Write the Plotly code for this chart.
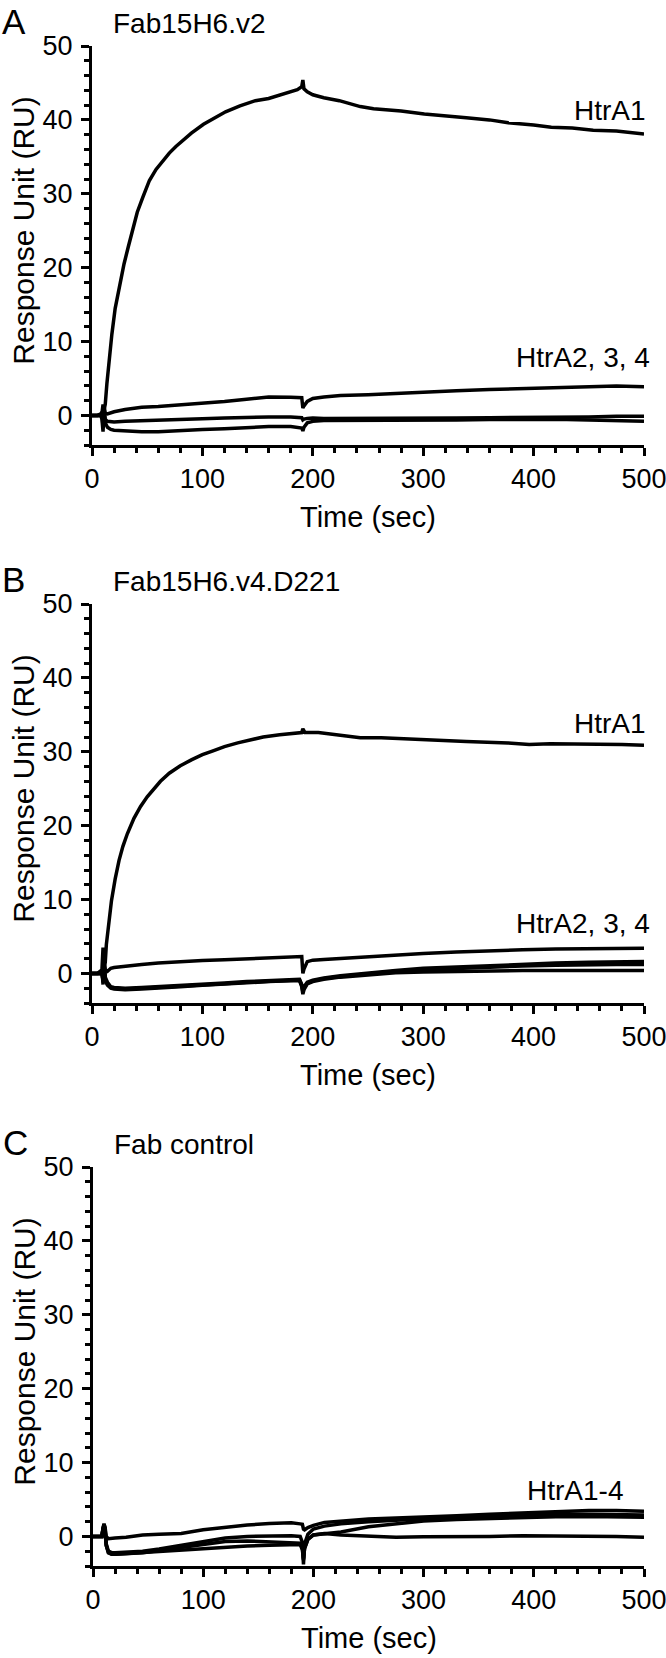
import plotly.graph_objects as go

# ---------------- data ----------------
# Panel A: Fab15H6.v2
t_A_htra1 = [0, 5, 9, 10, 11, 12, 13.5, 16, 18, 21, 25, 29, 33, 37, 41, 46, 52, 58, 64, 70,
             76, 83, 90, 101, 110, 121, 134, 148, 160, 167, 178, 186, 190, 191, 192, 195, 200, 210, 224, 235,
             243, 255, 265, 280, 301, 320, 339, 360, 377, 400, 416, 435, 454, 475, 490, 500]
A_htra1 = [0, 0, 0.3, 1.5, 0.8, 1.5, 4.3, 8.5, 11, 14.5, 17.8, 20.5, 22.9, 25.3, 27.5, 29.5, 31.8, 33.3, 34.5, 35.5,
           36.4, 37.3, 38.2, 39.4, 40.2, 41.1, 41.9, 42.6, 42.9, 43.2, 43.7, 44.1, 44.5, 45.4, 44.2, 43.8, 43.4, 43.0, 42.6, 42.2,
           41.8, 41.5, 41.4, 41.2, 40.8, 40.6, 40.3, 40.0, 39.6, 39.3, 39.0, 38.9, 38.6, 38.5, 38.3, 38.1]

# common time grid for the low-response curves
t_low = [0, 8, 9, 10, 11, 12, 14, 17, 20,
         30, 45, 60, 80, 100, 120, 140, 160, 180,
         188, 190, 191, 192, 195, 200, 210, 225, 250,
         275, 300, 330, 360, 390, 420, 450, 475, 500]

A_htra2 = [0, 0, 0.2, -1.5, 1.2, 0.3, 0.2, 0.4, 0.5,
           0.8, 1.1, 1.2, 1.4, 1.7, 1.9, 2.2, 2.5, 2.45,
           2.4, 2.4, 1.0, 1.3, 1.9, 2.3, 2.5, 2.7, 2.8,
           3.0, 3.15, 3.35, 3.5, 3.65, 3.75, 3.9, 4.0, 3.9]
A_htra3 = [0, 0, 0.5, -1.0, 0.5, -0.5, -0.8, -0.9, -0.9,
           -0.8, -0.7, -0.6, -0.5, -0.45, -0.35, -0.25, -0.2, -0.2,
           -0.2, -0.3, -0.6, -0.5, -0.4, -0.35, -0.4, -0.4, -0.45,
           -0.4, -0.4, -0.35, -0.3, -0.3, -0.25, -0.2, -0.1, -0.1]
A_htra4 = [0, 0, -0.5, -2.2, 1.0, -1.0, -1.6, -1.9, -2.0,
           -2.1, -2.2, -2.2, -2.0, -1.9, -1.8, -1.6, -1.5, -1.5,
           -1.6, -1.7, -2.1, -1.6, -1.0, -0.8, -0.7, -0.7, -0.7,
           -0.65, -0.6, -0.6, -0.55, -0.5, -0.5, -0.6, -0.7, -0.8]

# Panel B: Fab15H6.v4.D221
t_B_htra1 = [0, 5, 9, 10, 11, 12, 13, 15, 17.6, 21, 24.5, 28, 32, 38, 44, 50, 55, 62, 70, 80,
             90, 100, 109, 120, 132, 145, 155, 170, 185, 190, 191, 193, 205, 224, 243, 262, 300, 339, 377, 396,
             415, 454, 480, 500]
B_htra1 = [0, 0, 0.5, 3.5, 1.0, 1.5, 3.9, 7.0, 9.8, 12.8, 15.3, 17.2, 18.9, 21.0, 22.6, 23.9, 24.8, 26.0, 27.1, 28.1,
           28.9, 29.6, 30.1, 30.7, 31.2, 31.7, 32.0, 32.3, 32.5, 32.6, 33.1, 32.6, 32.6, 32.3, 31.9, 31.9, 31.6, 31.4, 31.2, 31.0,
           31.1, 31.1, 31.0, 30.9]
B_htra2 = [0, 0, 0.5, -1.0, 1.5, 0.5, 0.3, 0.7, 0.8,
           1.0, 1.2, 1.4, 1.6, 1.75, 1.85, 2.0, 2.1, 2.25,
           2.3, 2.3, 0.0, 0.6, 1.6, 1.8, 1.9, 2.05, 2.3,
           2.5, 2.7, 2.9, 3.1, 3.2, 3.3, 3.35, 3.4, 3.4]
B_htra3 = [0, 0, 0.5, -1.5, 2.0, -0.5, -1.2, -1.8, -1.9,
           -2.0, -1.9, -1.8, -1.6, -1.5, -1.3, -1.1, -1.0, -0.8,
           -0.8, -1.5, -2.3, -1.8, -1.2, -0.9, -0.6, -0.3, 0.1,
           0.4, 0.7, 0.9, 1.1, 1.3, 1.4, 1.5, 1.5, 1.6]
B_htra4 = [0, 0, 0.3, -1.2, 1.5, -0.8, -1.4, -1.9, -2.0,
           -2.1, -2.0, -1.9, -1.7, -1.6, -1.4, -1.2, -1.1, -0.9,
           -0.9, -1.6, -2.5, -2.0, -1.3, -1.0, -0.7, -0.4, 0.0,
           0.3, 0.5, 0.7, 0.9, 1.0, 1.1, 1.2, 1.2, 1.2]
B_htra5 = [0, 0, 0.2, -1.0, 1.0, -1.0, -1.6, -2.0, -2.1,
           -2.2, -2.1, -2.0, -1.8, -1.6, -1.4, -1.2, -1.1, -1.0,
           -1.0, -1.8, -2.8, -2.2, -1.4, -1.1, -0.8, -0.5, -0.2,
           0.1, 0.2, 0.3, 0.35, 0.4, 0.4, 0.4, 0.4, 0.4]

# Panel C: Fab control
C_htra1 = [0, 0, 1.0, 1.7, 1.2, 0.0, -0.3, -0.3, -0.2,
           -0.1, 0.2, 0.3, 0.4, 0.9, 1.25, 1.55, 1.75, 1.85,
           1.7, 1.65, 1.0, 0.9, 1.2, 1.5, 1.9, 2.1, 2.35,
           2.5, 2.6, 2.8, 3.0, 3.2, 3.35, 3.5, 3.5, 3.4]
C_htra2 = [0, 0, 1.0, 1.7, 1.0, -1.0, -2.0, -2.2, -2.2,
           -2.1, -2.0, -1.7, -1.2, -0.6, -0.2, 0.0, 0.1, 0.1,
           0.0, -0.8, -3.8, -1.0, 0.3, 1.0, 1.4, 1.7, 2.0,
           2.2, 2.4, 2.5, 2.7, 2.8, 3.0, 3.0, 3.0, 2.9]
C_htra3 = [0, 0, 1.0, 1.6, 0.8, -1.2, -2.2, -2.4, -2.4,
           -2.3, -2.2, -1.9, -1.5, -1.0, -0.7, -0.6, -0.7, -0.8,
           -0.9, -1.6, -3.0, -1.6, -0.4, 0.2, 0.4, 0.6, 1.3,
           1.7, 2.1, 2.3, 2.45, 2.55, 2.65, 2.7, 2.65, 2.6]
C_htra4 = [0, 0, 0.8, 1.5, 0.6, -1.2, -2.2, -2.4, -2.4,
           -2.3, -2.2, -2.1, -1.9, -1.7, -1.5, -1.3, -1.2, -1.1,
           -1.1, -1.8, -3.2, -1.6, -0.4, 0.2, 0.4, 0.2, 0.0,
           -0.1, -0.05, -0.05, 0.0, 0.1, 0.1, 0.1, 0.0, -0.1]

panel_letters = ["A", "B", "C"]
panel_titles = ["Fab15H6.v2", "Fab15H6.v4.D221", "Fab control"]
x_ticks = [0, 100, 200, 300, 400, 500]
y_ticks = [0, 10, 20, 30, 40, 50]
x_title = "Time (sec)"
y_title = "Response Unit (RU)"

# ---------------- figure ----------------
W, H = 666, 1658
FONT = "Liberation Sans, Arial, Helvetica, sans-serif"
LW = 3
TLW = 3.5

fig = go.Figure()

def px_dom(a, b, total):
    return [a / total, b / total]

def py_dom(top, bottom):
    return [1 - bottom / H, 1 - top / H]

# label entries: (text, x data, y data, xshift px)
panels = [
    dict(xd=px_dom(92, 644, W), yd=py_dom(46, 445),
         series=[(t_A_htra1, A_htra1), (t_low, A_htra2), (t_low, A_htra3), (t_low, A_htra4)],
         labels=[("HtrA1", 500, 41.3, 4), ("HtrA2, 3, 4", 500, 7.9, 8)]),
    dict(xd=px_dom(92, 644, W), yd=py_dom(604, 1003),
         series=[(t_B_htra1, B_htra1), (t_low, B_htra2), (t_low, B_htra3), (t_low, B_htra4), (t_low, B_htra5)],
         labels=[("HtrA1", 500, 33.8, 4), ("HtrA2, 3, 4", 500, 6.7, 8)]),
    dict(xd=px_dom(93, 644, W), yd=py_dom(1167, 1566),
         series=[(t_low, C_htra1), (t_low, C_htra2), (t_low, C_htra3), (t_low, C_htra4)],
         labels=[("HtrA1-4", 483, 6.2, 0)]),
]

annotations = []
for i, p in enumerate(panels):
    n = "" if i == 0 else str(i + 1)
    xa, ya = "x" + n, "y" + n
    for (tt, vv) in p["series"]:
        fig.add_trace(go.Scatter(x=tt, y=vv, mode="lines", xaxis=xa, yaxis=ya,
                                 line=dict(color="black", width=TLW), showlegend=False,
                                 hoverinfo="skip"))
    axcommon = dict(showgrid=False, zeroline=False, showline=True, linecolor="black",
                    linewidth=LW, ticks="outside", ticklen=8, tickwidth=LW, tickcolor="black",
                    ticklabeloverflow="allow",
                    tickfont=dict(family=FONT, size=27, color="black"))
    fig.update_layout(**{
        "xaxis" + n: dict(domain=p["xd"], range=[0, 500], anchor=ya, tickvals=x_ticks,
                          minor=dict(ticks="outside", ticklen=5, tickwidth=LW, dtick=20, tick0=0,
                                     tickcolor="black", showgrid=False),
                          **axcommon),
        "yaxis" + n: dict(domain=p["yd"], range=[-4, 50], anchor=xa, tickvals=y_ticks,
                          ticklabelstandoff=3,
                          minor=dict(ticks="outside", ticklen=5, tickwidth=LW, dtick=2, tick0=0,
                                     tickcolor="black", showgrid=False),
                          **axcommon),
    })
    # curve labels
    for (txt, lx, ly, sh) in p["labels"]:
        annotations.append(dict(text=txt, x=lx, y=ly, xref=xa, yref=ya, xanchor="right",
                                yanchor="middle", xshift=sh, showarrow=False,
                                font=dict(family=FONT, size=28, color="black")))
    # panel letter (box top sits 46 px above the plot area)
    annotations.append(dict(text=panel_letters[i], x=0, y=1, xref=xa + " domain", yref=ya + " domain",
                            xanchor="left", yanchor="top", xshift=-92, yshift=46, showarrow=False,
                            font=dict(family=FONT, size=35, color="black")))
    # panel title
    annotations.append(dict(text=panel_titles[i], x=0, y=1, xref=xa + " domain", yref=ya + " domain",
                            xanchor="left", yanchor="bottom", xshift=19, yshift=5, showarrow=False,
                            font=dict(family=FONT, size=28, color="black")))
    # axis titles
    annotations.append(dict(text=x_title, x=0.5, y=0, xref=xa + " domain", yref=ya + " domain",
                            xanchor="center", yanchor="middle", yshift=-72, showarrow=False,
                            font=dict(family=FONT, size=29, color="black")))
    annotations.append(dict(text=y_title, x=0, y=25, xref=xa + " domain", yref=ya,
                            xanchor="center", yanchor="middle", xshift=-68, textangle=-90,
                            showarrow=False, font=dict(family=FONT, size=30, color="black")))

fig.update_layout(width=W, height=H, margin=dict(l=0, r=0, t=0, b=0, autoexpand=False),
                  paper_bgcolor="white", plot_bgcolor="white", annotations=annotations,
                  showlegend=False)

fig.write_html("out.html", config={"displayModeBar": False},
               post_script="document.body.style.margin='0';document.body.style.overflow='hidden';")
